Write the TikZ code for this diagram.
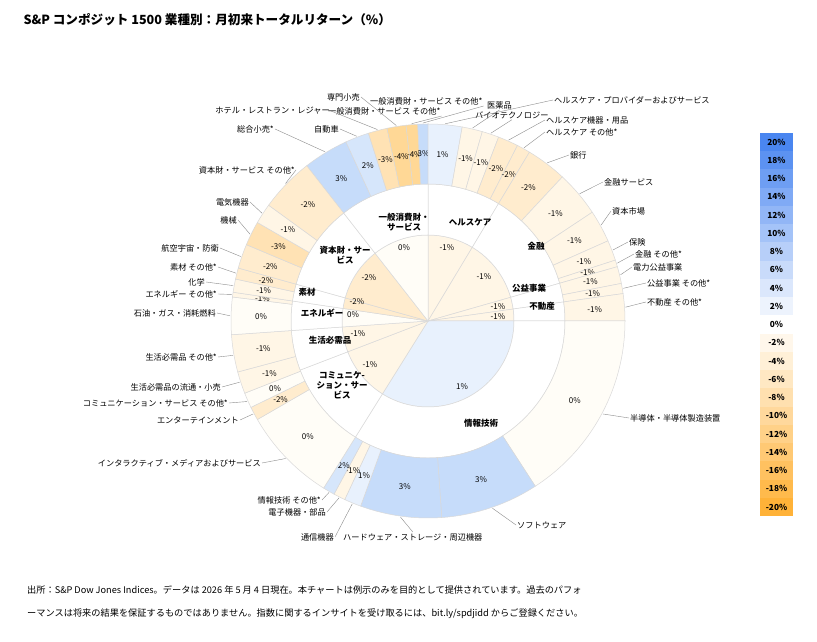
\documentclass[tikz,border=0pt]{standalone}
\usepackage{fontspec}
\setmainfont{Noto Sans CJK JP}
\definecolor{p3}{RGB}{198,220,250}
\definecolor{p2}{RGB}{214,230,251}
\definecolor{p1}{RGB}{232,241,253}
\definecolor{z0}{RGB}{255,253,247}
\definecolor{m1}{RGB}{255,246,230}
\definecolor{m2}{RGB}{255,236,206}
\definecolor{m3}{RGB}{255,226,180}
\definecolor{m4}{RGB}{255,216,150}
\definecolor{lgblue}{RGB}{74,134,240}
\definecolor{lgorange}{RGB}{255,178,56}
\tikzset{
  segline/.style={draw=black!15, line width=.5pt},
  lbl/.style={font=\fontsize{8.2}{9}\selectfont, inner sep=1pt},
  val/.style={font=\fontsize{8}{9}\selectfont, inner sep=0pt},
  sect/.style={font=\bfseries\fontsize{8.5}{10}\selectfont, align=center, inner sep=0pt},
  leader/.style={draw=black!45, line width=.4pt},
}
\begin{document}
\begin{tikzpicture}[x=1pt,y=1pt]
  \useasboundingbox (0,0) rectangle (817,642);
  \fill[white] (0,0) rectangle (817,642);
  \node[anchor=west, font=\bfseries\fontsize{12.6}{14}\selectfont] (title) at (20,{642-20}) {S\&P コンポジット 1500 業種別：月初来トータルリターン（\%）};

  % outer labels, left side
  \node[lbl, anchor=east] (genret) at (275,{642-129}) {総合小売*};
  \node[lbl, anchor=east] (auto) at (340,{642-129}) {自動車};
  \node[lbl, anchor=east] (hotel) at (331,{642-111}) {ホテル・レストラン・レジャー};
  \node[lbl, anchor=west] (dotha) at (327,{642-111}) {一般消費財・サービス その他*};
  \node[lbl, anchor=east] (spret) at (361,{642-97}) {専門小売};
  \node[lbl, anchor=west] (dotop) at (369,{642-101}) {一般消費財・サービス その他*};
  \node[lbl, anchor=east] (capoth) at (296,{642-170}) {資本財・サービス その他*};
  \node[lbl, anchor=east] (eleq) at (250,{642-202}) {電気機器};
  \node[lbl, anchor=east] (mach) at (238,{642-220}) {機械};
  \node[lbl, anchor=east] (aero) at (220,{642-248}) {航空宇宙・防衛};
  \node[lbl, anchor=east] (matoth) at (218,{642-267}) {素材 その他*};
  \node[lbl, anchor=east] (chem) at (206,{642-282}) {化学};
  \node[lbl, anchor=east] (enoth) at (218,{642-294}) {エネルギー その他*};
  \node[lbl, anchor=east] (oil) at (217,{642-313}) {石油・ガス・消耗燃料};
  \node[lbl, anchor=east] (csoth) at (218,{642-357}) {生活必需品 その他*};
  \node[lbl, anchor=east] (cstret) at (222,{642-387}) {生活必需品の流通・小売};
  \node[lbl, anchor=east] (comoth) at (229,{642-403}) {コミュニケーション・サービス その他*};
  \node[lbl, anchor=east] (ent) at (240,{642-420}) {エンターテインメント};
  \node[lbl, anchor=east] (imedia) at (262,{642-463}) {インタラクティブ・メディアおよびサービス};
  \node[lbl, anchor=east] (itoth) at (322,{642-500}) {情報技術 その他*};
  \node[lbl, anchor=east] (elecp) at (327,{642-512}) {電子機器・部品};
  \node[lbl, anchor=east] (comeq) at (335,{642-537}) {通信機器};
  \node[lbl, anchor=west] (hard) at (342,{642-537}) {ハードウェア・ストレージ・周辺機器};
  % outer labels, right side
  \node[lbl, anchor=west] (pharma) at (486,{642-105}) {医薬品};
  \node[lbl, anchor=west] (bio) at (474,{642-115}) {バイオテクノロジー};
  \node[lbl, anchor=west] (hcprov) at (553,{642-100}) {ヘルスケア・プロバイダーおよびサービス};
  \node[lbl, anchor=west] (hceq) at (545,{642-120}) {ヘルスケア機器・用品};
  \node[lbl, anchor=west] (hcoth) at (545,{642-132}) {ヘルスケア その他*};
  \node[lbl, anchor=west] (bank) at (569,{642-155}) {銀行};
  \node[lbl, anchor=west] (finsv) at (603,{642-182}) {金融サービス};
  \node[lbl, anchor=west] (capm) at (611,{642-211}) {資本市場};
  \node[lbl, anchor=west] (ins) at (628,{642-242}) {保険};
  \node[lbl, anchor=west] (finoth) at (634,{642-254}) {金融 その他*};
  \node[lbl, anchor=west] (elec) at (632,{642-267}) {電力公益事業};
  \node[lbl, anchor=west] (utoth) at (646,{642-283}) {公益事業 その他*};
  \node[lbl, anchor=west] (reoth) at (646,{642-302}) {不動産 その他*};
  \node[lbl, anchor=west] (semi) at (629,{642-418}) {半導体・半導体製造装置};
  \node[lbl, anchor=west] (soft) at (516,{642-525}) {ソフトウェア};

  \begin{scope}[shift={(428,321)}]
    % inner pie: sectors
    \foreach \a/\b/\c in {0/31/m1, 31/74/m1, 74/82/m1, 82/90/m1, 90/212/p1, 212/249/m1,
        249/266/m1, 266/278.4/z0, 278.4/285.6/m2, 285.6/322/m2, 322/360/z0}
      \draw[segline, fill=\c] (0,0) -- ({90-\a}:86pt) arc[start angle={90-\a}, end angle={90-\b}, radius=86pt] -- cycle;
    % white band of sector names
    \foreach \a/\b in {0/31, 31/74, 74/82, 82/90, 90/212, 212/249, 249/266, 266/278.4, 278.4/285.6, 285.6/322, 322/360}
      \draw[segline, fill=white] ({90-\a}:86pt) arc[start angle={90-\a}, end angle={90-\b}, radius=86pt]
        -- ({90-\b}:137pt) arc[start angle={90-\b}, end angle={90-\a}, radius=137pt] -- cycle;
    % outer ring: industries
    \foreach \a/\b/\v/\c in {322/335.4/3/p3, 335.4/342.4/2/p2, 342.4/348/-3/m3, 348/353.6/-4/m4,
        353.6/357/-4/m4, 357/360/3/p3, 0/10/1/p1, 10/16/-1/m1, 16/21/-1/m1, 21/27/-2/m2,
        27/31/-2/m2, 31/43/-2/m2, 43/56.5/-1/m1, 56.5/66/-1/m1, 66/72/-1/m1, 72/74/-1/m1,
        74/79/-1/m1, 79/82/-1/m1, 82/90/-1/m1, 90/147/0/z0, 147/176/3/p3, 176/200/3/p3,
        200/205/1/p1, 205/208.5/-1/m1, 208.5/212/2/p2, 212/240/0/z0, 240/244/-2/m2,
        244/248.5/0/z0, 248.5/255/-1/m1, 255/266/-1/m1, 266/277/0/z0, 277/278.4/-1/m1,
        278.4/282.3/-1/m1, 282.3/285.6/-2/m2, 285.6/292.8/-2/m2, 292.8/300/-3/m3,
        300/306/-1/m1, 306/322/-2/m2}
    {
      \draw[segline, fill=\c] ({90-\a}:137pt) arc[start angle={90-\a}, end angle={90-\b}, radius=137pt]
        -- ({90-\b}:197pt) arc[start angle={90-\b}, end angle={90-\a}, radius=197pt] -- cycle;
      \node[val] at ({90-(\a+\b)/2}:167pt) {\v\%};
    }
    % leaders
    \foreach \n/\s/\t in {genret/east/328.7, auto/east/338.9, hotel/east/345.2, spret/east/350.8,
        dotha/south east/355.3, dotop/south east/358.5, capoth/east/314, eleq/east/303,
        mach/east/296, aero/east/289, matoth/east/284, chem/east/280.3, enoth/east/277.7,
        oil/east/271.5, csoth/east/260, cstret/east/252, comoth/east/246, ent/east/242,
        imedia/east/226, itoth/east/210, elecp/east/206.7, comeq/east/202.5, hard/north/188,
        pharma/south/13, bio/south/18.5, hcprov/west/5, hceq/west/24, hcoth/west/29,
        bank/west/37, finsv/west/50, capm/west/61, ins/west/69, finoth/west/73,
        elec/west/76.5, utoth/west/80.5, reoth/west/86, semi/west/118, soft/west/161}
      \draw[leader] (\n.\s) -- ({90-\t}:198pt);
  \end{scope}

  % sector names and sector values
  \node[sect] (sdisc) at (404,{642-222}) {一般消費財・\\サービス};
  \node[sect] (shc) at (470,{642-222}) {ヘルスケア};
  \node[sect] (sfin) at (536,{642-246}) {金融};
  \node[sect] (sind) at (345,{642-255}) {資本財・サー\\ビス};
  \node[sect] (smat) at (307,{642-292}) {素材};
  \node[sect] (sen) at (322,{642-313}) {エネルギー};
  \node[sect] (sutl) at (529,{642-288}) {公益事業};
  \node[sect] (sre) at (542,{642-306}) {不動産};
  \node[sect] (sstp) at (330,{642-340}) {生活必需品};
  \node[sect] (scom) at (342,{642-385}) {コミュニケ-\\ション・サー\\ビス};
  \node[sect] (sit) at (481,{642-423}) {情報技術};
  \foreach \x/\y/\v in {404/248/0, 447/248/-1, 484/277/-1, 369/278/-2, 357/302/-2, 353/315/0,
      498/307/-1, 498/317/-1, 358/334/-1, 370/365/-1, 462/387/1}
    \node[val] at (\x,{642-\y}) {\v\%};

  % legend
  \foreach \i in {0,...,20}{
    \pgfmathtruncatemacro{\v}{20-2*\i}
    \pgfmathtruncatemacro{\p}{abs(\v)*5}
    \ifnum\v>0 \def\lc{lgblue}\else \def\lc{lgorange}\fi
    \fill[\lc!\p!white] (760,{642-133-18.25*\i}) rectangle (793,{642-133-18.25*(\i+1)});
    \node[font=\bfseries\fontsize{8.3}{9}\selectfont] at (776.5,{642-142-18.25*\i}) {\v\%};
  }

  % footer
  \node[anchor=west, font=\fontsize{9.2}{11}\selectfont, inner sep=0pt] (note1) at (27,{642-590})
    {出所：S\&P Dow Jones Indices。データは 2026 年 5 月 4 日現在。本チャートは例示のみを目的として提供されています。過去のパフォ};
  \node[anchor=west, font=\fontsize{9.2}{11}\selectfont, inner sep=0pt] (note2) at (27,{642-614})
    {ーマンスは将来の結果を保証するものではありません。指数に関するインサイトを受け取るには、bit.ly/spdjidd からご登録ください。};
\end{tikzpicture}
\end{document}
